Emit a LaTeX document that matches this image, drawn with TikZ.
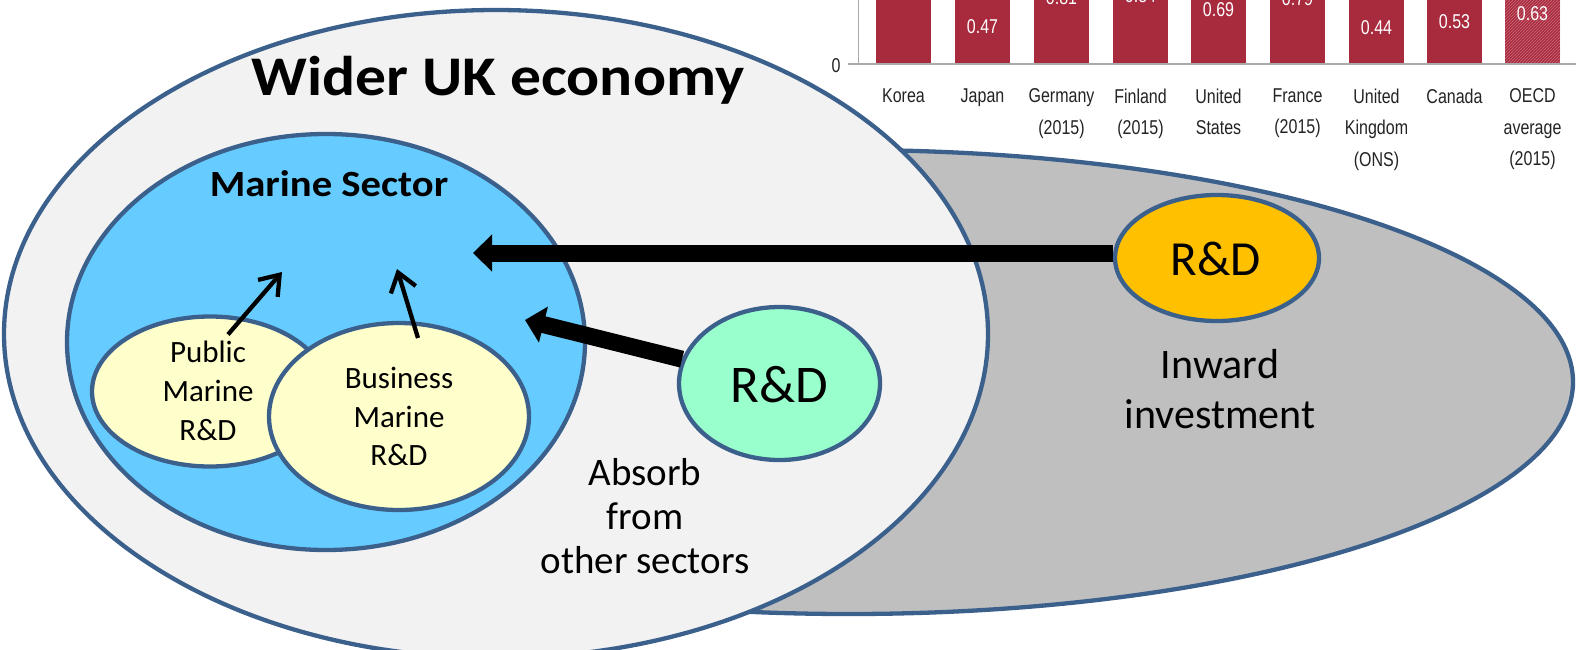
\documentclass[tikz,border=0pt]{standalone}
\usepackage{fontspec}
\setmainfont{Carlito}
\newfontfamily\widefont[FakeStretch=1.1]{Carlito}
\newfontfamily\chartfont[FakeStretch=0.8]{Liberation Sans}
\usetikzlibrary{arrows.meta,patterns,shapes.geometric}
\definecolor{rim}{RGB}{59,96,140}
\definecolor{lightfill}{RGB}{242,242,242}
\definecolor{greyfill}{RGB}{191,191,191}
\definecolor{bluefill}{RGB}{102,204,255}
\definecolor{creamfill}{RGB}{255,255,204}
\definecolor{mintfill}{RGB}{153,255,204}
\definecolor{amberfill}{RGB}{255,192,0}
\definecolor{barred}{RGB}{168,42,61}
\definecolor{hatchpink}{RGB}{205,110,125}
\definecolor{axisgrey}{RGB}{170,170,170}
\definecolor{labelgrey}{RGB}{35,35,35}
\begin{document}
\begin{tikzpicture}[x=1pt,y=-1pt,
  blob/.style={ellipse, draw=rim, line width=4.3pt, inner sep=0pt, outer sep=0pt},
  words/.style={inner sep=0pt, align=center, text=black},
  bigarrow/.style={line width=17pt, shorten <=2pt, -{Triangle[length=19pt,width=36pt]}},
  thinarrow/.style={line width=4.3pt, -{Straight Barb[length=18pt,width=26pt]}},
  catlabel/.style={inner sep=0pt, align=center, anchor=north, text=labelgrey,
    font=\chartfont\fontsize{20}{31.5}\selectfont},
  vallabel/.style={inner sep=0pt, text=white, font=\chartfont\fontsize{20}{24}\selectfont}]

\useasboundingbox (0,0) rectangle (1576,649);
\clip (0,0) rectangle (1576,649);

% nested economy ellipses
\node[blob, fill=greyfill, minimum width=1448pt, minimum height=464pt] (inward) at (849,382) {};
\node[blob, fill=lightfill, minimum width=984pt, minimum height=648pt] (wider) at (496,334) {};
\node[blob, fill=bluefill, minimum width=518pt, minimum height=416pt] (marine) at (326,342) {};
\node[blob, fill=creamfill, minimum width=236pt, minimum height=150pt] (pub) at (210,391.5) {};
\node[blob, fill=creamfill, minimum width=260pt, minimum height=187pt] (bus) at (399,416.5) {};

\node[words, anchor=base, font=\widefont\bfseries\fontsize{56}{60}\selectfont] (widertitle) at (498,95) {Wider UK economy};
\node[words, anchor=base, font=\widefont\bfseries\fontsize{37}{40}\selectfont] (marinetitle) at (329,196) {Marine Sector};
\node[words, anchor=north, font=\fontsize{31}{39}\selectfont] (pubtext) at (208,341) {Public\\Marine\\R\&D};
\node[words, anchor=north, font=\fontsize{31}{38.5}\selectfont] (bustext) at (399,367) {Business\\Marine\\R\&D};

% marine R&D feeding the sector
\coordinate (pubtip) at (282,272);
\coordinate (bustip) at (397,269);
\draw[thinarrow] ([shift={(18,18)}]pub.north) -- (pubtip);
\draw[thinarrow] ([shift={(19,15)}]bus.north) -- (bustip);

% R&D from other sectors and from inward investment
\node[blob, fill=mintfill, minimum width=201pt, minimum height=153pt] (absorbrd) at (779.5,383.5) {};
\node[words, anchor=base, font=\fontsize{53}{56}\selectfont] (absorbrdtext) at (779,402) {R\&D};
\node[blob, fill=amberfill, minimum width=204pt, minimum height=126pt] (inwardrd) at (1217,258) {};
\node[words, anchor=base, font=\fontsize{49}{52}\selectfont] (inwardrdtext) at (1216,275) {R\&D};
\node[words, anchor=north, font=\fontsize{42}{50}\selectfont] (inwardtext) at (1220,349) {Inward\\investment};
\node[words, anchor=north, font=\fontsize{39}{44}\selectfont] (absorbtext) at (645,458) {Absorb\\from\\other sectors};

\coordinate (inwardtip) at (473,253);
\coordinate (absorbtip) at (525,320);
\draw[bigarrow] (inwardrd.west |- inwardtip) -- (inwardtip);
\draw[bigarrow] (absorbrd) -- (absorbtip);

% bar chart strip
\foreach \bx in {876,955,1034,1113,1191,1270,1349,1427}
  \fill[barred] (\bx,-5) rectangle ++(55,69);
\fill[barred] (1505,-5) rectangle ++(55,69);
\fill[pattern=north east lines, pattern color=hatchpink] (1505,-5) rectangle ++(55,69);

\draw[axisgrey, line width=1.2pt] (848,64) -- (1576,64);
\draw[axisgrey, line width=0.8pt] (858,-2) -- (858,64);
\node[vallabel, text=labelgrey] (zero) at (836,66) {0};

\foreach \bx/\val/\vy [count=\k] in {955/0.47/27, 1034/0.81/-2, 1113/0.84/-4, 1191/0.69/10,
    1270/0.79/-1, 1349/0.44/28, 1427/0.53/22, 1505/0.63/14}
  \node[vallabel] (value\k) at (\bx+27.5,\vy) {\val};

\foreach \bx/\cat [count=\k] in {876/Korea, 955/Japan, 1034/{Germany\\(2015)},
    1113/{Finland\\(2015)}, 1191/{United\\States}, 1270/{France\\(2015)},
    1349/{United\\Kingdom\\(ONS)}, 1427/Canada, 1505/{OECD\\average\\(2015)}}
  \node[catlabel] (category\k) at (\bx+27.5,88.5) {\cat};
\end{tikzpicture}
\end{document}
